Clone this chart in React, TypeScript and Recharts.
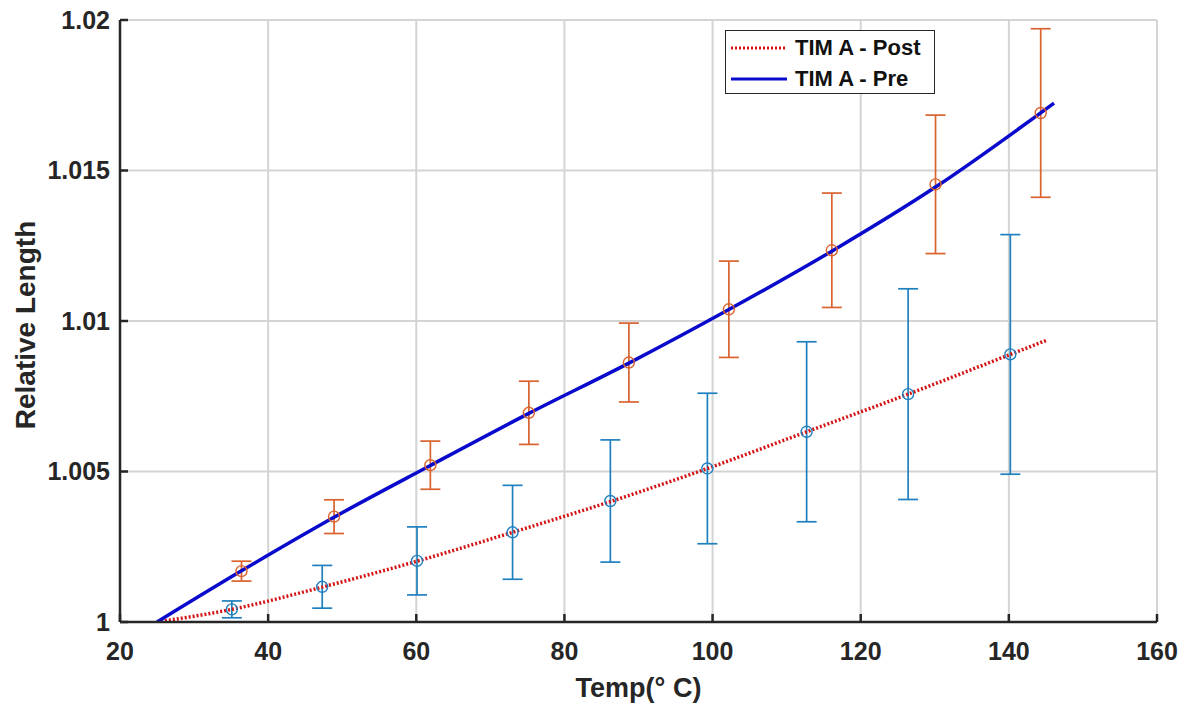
import {
  CartesianGrid,
  ComposedChart,
  ErrorBar,
  Legend,
  Line,
  Scatter,
  XAxis,
  YAxis,
} from "recharts";

// measured points (circles + error bars)
const postTemp = [35.1, 47.3, 60.1, 73.0, 86.2, 99.3, 112.7, 126.4, 140.2];
const postValue = [1.00042, 1.00117, 1.00203, 1.00298, 1.00402, 1.0051, 1.00632, 1.00757, 1.00889];
const postErr = [0.00028, 0.00071, 0.00113, 0.00156, 0.00203, 0.0025, 0.00299, 0.0035, 0.00398];

const preTemp = [36.4, 48.9, 61.9, 75.2, 88.7, 102.2, 116.1, 130.1, 144.3];
const preValue = [1.00169, 1.0035, 1.00521, 1.00695, 1.00862, 1.01039, 1.01235, 1.01454, 1.01691];
const preErr = [0.00033, 0.00056, 0.0008, 0.00105, 0.00131, 0.0016, 0.0019, 0.0023, 0.0028];

// fitted curves
const postFitTemp = [25, 35.1, 47.3, 60.1, 73, 86.2, 99.3, 112.7, 126.4, 140.2, 145.1];
const postFitValue = [1.0, 1.00042, 1.00116, 1.00202, 1.00298, 1.004, 1.0051, 1.00632, 1.00757, 1.00889, 1.00936];
const preFitTemp = [25, 36.4, 48.9, 61.9, 75.2, 88.7, 102.2, 116.1, 130.1, 146.1];
const preFitValue = [1.0, 1.0017, 1.00348, 1.0052, 1.00693, 1.0086, 1.01038, 1.01232, 1.01445, 1.01724];

const xTicks = [20, 40, 60, 80, 100, 120, 140, 160];
const yTicks = [1, 1.005, 1.01, 1.015, 1.02];

const FONT = '"Liberation Sans", Arial, sans-serif';
const INK = "#262626";
const GRID = "#d4d4d4";
const ORANGE = "#D9622E";
const BLUE_PT = "#1F80BF";
const FIT_PRE = "#0a0acd";
const FIT_POST = "#d41414";

const postPoints = postTemp.map((x, i) => ({ x, y: postValue[i], err: postErr[i] }));
const prePoints = preTemp.map((x, i) => ({ x, y: preValue[i], err: preErr[i] }));
const postFit = postFitTemp.map((x, i) => ({ x, y: postFitValue[i] }));
const preFit = preFitTemp.map((x, i) => ({ x, y: preFitValue[i] }));

const tickStyle = { fill: INK, fontSize: 25, fontWeight: 700, fontFamily: FONT };
const axisStroke = { stroke: INK, strokeWidth: 2.5 };

function ring(color: string) {
  return (props: any) => (
    <circle cx={props.cx} cy={props.cy} r={5.5} fill="none" stroke={color} strokeWidth={1.4} />
  );
}

function LegendBox() {
  const row = (dash: string | undefined, color: string, text: string) => (
    <div style={{ display: "flex", alignItems: "center", height: 31 }}>
      <svg width={56} height={8} style={{ marginLeft: 5 }}>
        <line x1={0} y1={4} x2={56} y2={4} stroke={color} strokeWidth={3} strokeDasharray={dash} />
      </svg>
      <span style={{ marginLeft: 8, fontSize: 22, fontWeight: 700, color: "#111" }}>{text}</span>
    </div>
  );
  return (
    <div
      style={{
        width: 210,
        height: 64,
        boxSizing: "border-box",
        border: `1.5px solid ${INK}`,
        background: "#fff",
        paddingTop: 1,
        fontFamily: FONT,
      }}
    >
      {row("2 2", FIT_POST, "TIM A - Post")}
      {row(undefined, FIT_PRE, "TIM A - Pre")}
    </div>
  );
}

export default function App() {
  return (
    <div style={{ width: 1192, height: 709, background: "#fff" }}>
      <style>{"body{margin:0}"}</style>
      <ComposedChart
        width={1192}
        height={709}
        margin={{ top: 20, right: 35, bottom: 0, left: 0 }}
      >
        <CartesianGrid stroke={GRID} strokeWidth={2} />
        <XAxis
          dataKey="x"
          type="number"
          domain={[20, 160]}
          ticks={xTicks}
          allowDataOverflow
          height={87}
          tick={tickStyle}
          tickSize={-8}
          tickMargin={28}
          axisLine={axisStroke}
          tickLine={axisStroke}
          label={{
            content: (p: any) => (
              <text
                x={p.viewBox.x + p.viewBox.width / 2}
                y={p.viewBox.y + 75}
                textAnchor="middle"
                fill={INK}
                fontSize={27}
                fontWeight={700}
                fontFamily={FONT}
              >
                Temp(° C)
              </text>
            ),
          }}
        />
        <XAxis
          xAxisId="top"
          orientation="top"
          type="number"
          domain={[20, 160]}
          ticks={xTicks}
          allowDataOverflow
          height={0}
          tick={false}
          tickSize={-8}
          axisLine={axisStroke}
          tickLine={axisStroke}
        />
        <YAxis
          dataKey="y"
          type="number"
          domain={[1, 1.02]}
          ticks={yTicks}
          allowDataOverflow
          width={120}
          tick={tickStyle}
          tickSize={-8}
          tickMargin={18}
          tickFormatter={(v: number) => String(v)}
          axisLine={axisStroke}
          tickLine={axisStroke}
          label={{
            content: (p: any) => {
              const cx = 25;
              const cy = p.viewBox.y + p.viewBox.height / 2 + 4;
              return (
                <text
                  x={cx}
                  y={cy}
                  transform={`rotate(-90 ${cx} ${cy})`}
                  textAnchor="middle"
                  dominantBaseline="central"
                  fill={INK}
                  fontSize={28}
                  fontWeight={700}
                  fontFamily={FONT}
                >
                  Relative Length
                </text>
              );
            },
          }}
        />
        <YAxis
          yAxisId="right"
          orientation="right"
          type="number"
          domain={[1, 1.02]}
          ticks={yTicks}
          allowDataOverflow
          width={0}
          tick={false}
          tickSize={-8}
          axisLine={axisStroke}
          tickLine={axisStroke}
        />

        <Scatter
          data={postPoints}
          dataKey="y"
          name="post points"
          shape={ring(BLUE_PT)}
          isAnimationActive={false}
          legendType="none"
        >
          <ErrorBar dataKey="err" direction="y" width={10} stroke={BLUE_PT} strokeWidth={1.7} />
        </Scatter>
        <Scatter
          data={prePoints}
          dataKey="y"
          name="pre points"
          shape={ring(ORANGE)}
          isAnimationActive={false}
          legendType="none"
        >
          <ErrorBar dataKey="err" direction="y" width={10} stroke={ORANGE} strokeWidth={1.7} />
        </Scatter>

        <Line
          data={postFit}
          dataKey="y"
          name="TIM A - Post"
          type="monotone"
          stroke={FIT_POST}
          strokeWidth={3.5}
          strokeDasharray="2 2"
          dot={false}
          activeDot={false}
          isAnimationActive={false}
        />
        <Line
          data={preFit}
          dataKey="y"
          name="TIM A - Pre"
          type="monotone"
          stroke={FIT_PRE}
          strokeWidth={3.5}
          dot={false}
          activeDot={false}
          isAnimationActive={false}
        />

        <Legend
          layout="horizontal"
          verticalAlign="middle"
          align="center"
          content={() => <LegendBox />}
          wrapperStyle={{ left: 725, top: 30, width: "auto", height: "auto" }}
        />
      </ComposedChart>
    </div>
  );
}
